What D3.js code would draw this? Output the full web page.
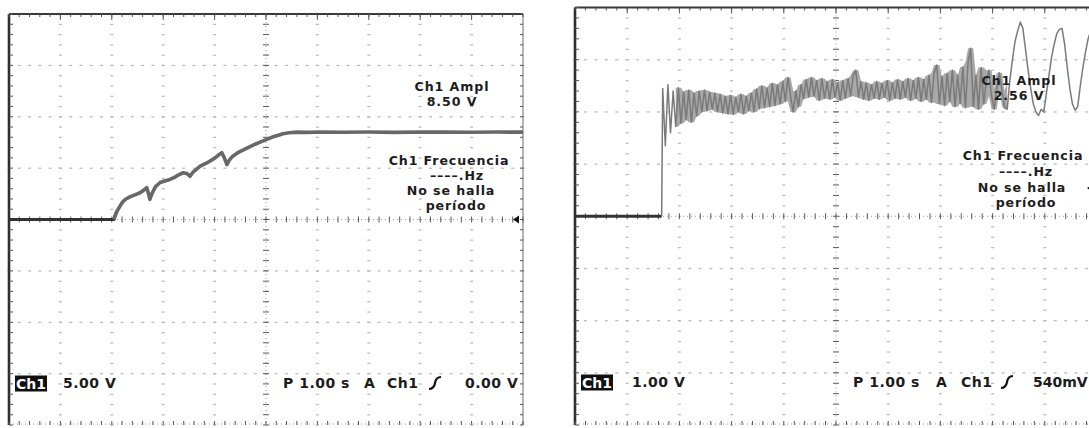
<!DOCTYPE html>
<html>
<head>
<meta charset="utf-8">
<script src="https://cdn.jsdelivr.net/npm/d3@7"></script>
<style>
  html, body { margin: 0; background: #fff; }
  svg { display: block; }
  text { font-family: "DejaVu Sans", sans-serif; }
</style>
</head>
<body>
<svg id="chart" width="1089" height="428"></svg>
<script>
// ---- Channel 1, 5.00 V/div, 1.00 s/div : slow ramp then steady level ----
const rampTime = [0, 2.04, 2.06, 2.10, 2.16, 2.21, 2.26, 2.35, 2.45, 2.55, 2.62, 2.68, 2.71, 2.74,
  2.78, 2.85, 2.94, 3.03, 3.13, 3.22, 3.30, 3.39, 3.47, 3.52, 3.58, 3.72, 3.85, 4.01, 4.08, 4.14,
  4.19, 4.24, 4.29, 4.34, 4.45, 4.57, 4.69, 4.80, 4.92, 5.04, 5.14, 5.24, 5.33, 5.45, 5.60, 5.80,
  6.10, 6.50, 7.00, 7.50, 8.00, 8.50, 9.00, 9.50, 10.0];
const rampVolts = [0, 0, 0.3, 0.8, 1.3, 1.7, 1.95, 2.2, 2.4, 2.6, 2.85, 3.1, 2.6, 1.95,
  2.5, 3.2, 3.6, 3.75, 3.9, 4.1, 4.35, 4.55, 4.45, 4.2, 4.6, 5.2, 5.5, 6.0, 6.3, 6.5,
  6.0, 5.35, 5.8, 6.1, 6.5, 6.8, 7.1, 7.35, 7.6, 7.85, 8.05, 8.2, 8.35, 8.45, 8.5, 8.48,
  8.52, 8.49, 8.51, 8.48, 8.52, 8.5, 8.49, 8.51, 8.5];

// ---- Channel 1, 1.00 V/div, 1.00 s/div : step into a noisy level ----
const stepGroundTime = [0, 1.66];
const stepGroundVolts = [0, 0];
const stepStart = 1.68;    // first sample after the step (s)
const stepInterval = 0.05; // sample spacing (s)
const stepVolts = [
  2.45, 1.35, 2.52, 1.60, 2.40, 1.72, 2.46, 1.78, 2.38, 1.85,
  2.42, 1.80, 2.36, 1.92, 2.40, 2.00, 2.42, 2.02, 2.38, 2.05,
  2.36, 2.00, 2.34, 1.98, 2.30, 1.96, 2.32, 1.95, 2.28, 2.00,
  2.34, 1.96, 2.30, 2.02, 2.36, 2.00, 2.44, 2.06, 2.50, 2.08,
  2.46, 2.10, 2.55, 2.12, 2.52, 2.15, 2.58, 2.20, 2.66, 2.30,
  2.00, 2.40, 2.10, 2.52, 2.25, 2.62, 2.28, 2.66, 2.30, 2.60,
  2.22, 2.64, 2.26, 2.58, 2.24, 2.62, 2.28, 2.56, 2.22, 2.60,
  2.26, 2.64, 2.30, 2.70, 2.80, 2.28, 2.58, 2.24, 2.56, 2.22,
  2.52, 2.26, 2.58, 2.24, 2.55, 2.28, 2.60, 2.22, 2.56, 2.26,
  2.62, 2.24, 2.58, 2.28, 2.64, 2.22, 2.60, 2.26, 2.66, 2.20,
  2.62, 2.24, 2.70, 2.18, 2.75, 2.90, 2.15, 2.68, 2.12, 2.74,
  2.20, 2.80, 2.10, 2.70, 2.16, 2.86, 2.08, 2.95, 3.22, 2.10,
  2.70, 2.05, 2.85, 2.15, 2.60, 2.80, 2.30, 2.05, 2.45, 2.75,
  2.40, 2.10, 2.05, 2.60, 3.00, 3.35, 3.55, 3.72, 3.60, 3.20,
  2.80, 2.45, 2.15, 2.00, 1.93, 2.05, 2.00, 2.35, 2.70, 3.05,
  3.30, 3.50, 3.58, 3.60, 3.30, 2.85, 2.45, 2.15, 2.03, 2.10,
  2.50, 2.85, 3.15, 3.40, 3.55, 3.50, 3.30];
const stepBandEnd = 8.3; // noise band shading stops where the slow swings begin (s)

// ---- On-screen readouts ----
const rampReadout = ["Ch1 Ampl", "8.50 V"];
const stepReadout = ["Ch1 Ampl", "2.56 V"];
const freqReadout = ["Ch1 Frecuencia", "––––.Hz", "No se halla", "período"];
const rampScale = ["Ch1", "5.00 V"];
const stepScale = ["Ch1", "1.00 V"];
const rampTrigger = ["P 1.00 s", "A", "Ch1", "0.00 V"];
const stepTrigger = ["P 1.00 s", "A", "Ch1", "540mV"];
const rampTriggerLevel = 0.00;
const stepTriggerLevel = 0.54;

const svg = d3.select("#chart");

function drawScreen(cfg) {
  const g = svg.append("g");
  // graticule in divisions, data scales in seconds / volts
  const gx = d3.scaleLinear().domain([0, 10]).range([cfg.x0, cfg.x1]);
  const gy = d3.scaleLinear().domain([-4, 4]).range([cfg.y1, cfg.y0]);
  const x = d3.scaleLinear().domain([0, 10 * cfg.secPerDiv]).range([cfg.x0, cfg.x1]);
  const y = d3.scaleLinear().domain([-4 * cfg.voltPerDiv, 4 * cfg.voltPerDiv]).range([cfg.y1, cfg.y0]);

  const minorX = d3.range(0, 50.001, 1).map(i => i / 5);
  const minorY = d3.range(0, 40.001, 1).map(i => i / 5 - 4);

  // dotted division lines
  const grid = g.append("g").attr("fill", "#b8b8b8");
  [1, 2, 3, 4, 6, 7, 8, 9].forEach(d => {
    grid.selectAll(null).data(minorY).join("rect")
      .attr("x", gx(d) - 1.5).attr("y", v => gy(v) - 0.5)
      .attr("width", 3).attr("height", 1.2);
  });
  [-3, -2, -1, 1, 2, 3].forEach(d => {
    grid.selectAll(null).data(minorX).join("rect")
      .attr("x", t => gx(t) - 1.5).attr("y", gy(d) - 0.5)
      .attr("width", 3).attr("height", 1.2);
  });

  // centre axes with fine ticks
  const axes = g.append("g").attr("stroke", "#5a5a5a").attr("stroke-width", 1);
  axes.append("line").attr("x1", gx(5)).attr("x2", gx(5)).attr("y1", cfg.y0).attr("y2", cfg.y1)
    .attr("stroke", "#9a9a9a").attr("stroke-dasharray", "1,3");
  axes.append("line").attr("x1", cfg.x0).attr("x2", cfg.x1).attr("y1", gy(0)).attr("y2", gy(0))
    .attr("stroke", "#9a9a9a").attr("stroke-dasharray", "1,3");
  axes.selectAll(null).data(minorY).join("line")
    .attr("x1", gx(5) - 3).attr("x2", gx(5) + 3).attr("y1", v => gy(v)).attr("y2", v => gy(v));
  axes.selectAll(null).data(minorX).join("line")
    .attr("y1", gy(0) - 3).attr("y2", gy(0) + 3).attr("x1", t => gx(t)).attr("x2", t => gx(t));

  // frame: heavy left/top, light right, faint bottom
  const frame = g.append("g");
  frame.append("line").attr("x1", cfg.x0).attr("x2", cfg.x0).attr("y1", cfg.y0).attr("y2", cfg.y1)
    .attr("stroke", "#2e2e2e").attr("stroke-width", 2.6);
  frame.append("line").attr("x1", cfg.x0).attr("x2", cfg.x1).attr("y1", cfg.y0).attr("y2", cfg.y0)
    .attr("stroke", "#3a3a3a").attr("stroke-width", 2.2);
  frame.append("line").attr("x1", cfg.x1).attr("x2", cfg.x1).attr("y1", cfg.y0).attr("y2", cfg.y1)
    .attr("stroke", "#6a6a6a").attr("stroke-width", 1);
  frame.append("line").attr("x1", cfg.x0).attr("x2", cfg.x1).attr("y1", cfg.y1 - 1).attr("y2", cfg.y1 - 1)
    .attr("stroke", "#9a9a9a").attr("stroke-dasharray", "1,3");
  const ticks = frame.append("g").attr("stroke", "#555").attr("stroke-width", 1);
  ticks.selectAll(null).data(minorY).join("line")
    .attr("x1", cfg.x0).attr("x2", cfg.x0 + 4).attr("y1", v => gy(v)).attr("y2", v => gy(v));
  ticks.selectAll(null).data(minorY).join("line")
    .attr("x1", cfg.x1 - 3).attr("x2", cfg.x1).attr("y1", v => gy(v)).attr("y2", v => gy(v));
  ticks.selectAll(null).data(minorX).join("line")
    .attr("x1", t => gx(t)).attr("x2", t => gx(t)).attr("y1", cfg.y0).attr("y2", cfg.y0 + 3);
  ticks.selectAll(null).data(minorX).join("line")
    .attr("x1", t => gx(t)).attr("x2", t => gx(t)).attr("y1", cfg.y1 - 4).attr("y2", cfg.y1);
  // major ticks on the frame at each division
  ticks.selectAll(null).data(d3.range(1, 10)).join("line")
    .attr("x1", d => gx(d)).attr("x2", d => gx(d)).attr("y1", cfg.y0).attr("y2", cfg.y0 + 6);

  // waveform
  cfg.traces(g, x, y);

  // trigger level marker on the right edge
  const ty = y(cfg.triggerLevel);
  g.append("path")
    .attr("d", `M${cfg.x1 - 10},${ty} L${cfg.x1 - 4},${ty - 4} L${cfg.x1 - 4},${ty + 4} Z`)
    .attr("fill", "#111");

  // readouts
  const txt = g.append("g").attr("fill", "#1c1c1c").attr("font-size", 12.6)
    .attr("font-weight", "bold").attr("letter-spacing", 0.9).attr("text-anchor", "middle");
  txt.selectAll(null).data(cfg.ampl).join("text")
    .attr("x", cfg.amplX).attr("y", (d, i) => cfg.amplY + i * 15).text(d => d);
  txt.selectAll(null).data(freqReadout).join("text")
    .attr("x", (d, i) => cfg.freqX + cfg.freqDx[i]).attr("y", (d, i) => cfg.freqY[i]).text(d => d);

  // bottom status line
  const by = cfg.statusY;
  g.append("rect").attr("x", cfg.x0 + 6).attr("y", by - 12.5).attr("width", 32).attr("height", 16)
    .attr("fill", "#111");
  g.append("text").attr("x", cfg.x0 + 22).attr("y", by + 0.5).attr("text-anchor", "middle")
    .attr("font-size", 14).attr("font-weight", "bold").attr("fill", "#fff").text(cfg.scale[0]);
  const status = g.append("g").attr("fill", "#1c1c1c").attr("font-size", 14)
    .attr("font-weight", "bold").attr("letter-spacing", 0.5);
  status.append("text").attr("x", cfg.scaleX).attr("y", by).text(cfg.scale[1]);
  status.selectAll(null).data(cfg.trigger).join("text")
    .attr("x", (d, i) => cfg.trigX[i]).attr("y", by)
    .attr("letter-spacing", (d, i) => i === 3 ? cfg.lastSpacing : null).text(d => d);
  // rising-edge slope symbol
  const sx = cfg.slopeX;
  g.append("path")
    .attr("d", `M${sx},${by + 1} Q${sx + 5},${by + 1} ${sx + 6},${by - 5} Q${sx + 7},${by - 11} ${sx + 12},${by - 11}`)
    .attr("fill", "none").attr("stroke", "#111").attr("stroke-width", 2.2);
}

// left screen: ramp
drawScreen({
  x0: 9, x1: 523, y0: 14, y1: 425, secPerDiv: 1, voltPerDiv: 5,
  triggerLevel: rampTriggerLevel,
  ampl: rampReadout, amplX: 452, amplY: 91,
  freqX: 449, freqDx: [0, 8, 2, 7], freqY: [165, 180, 195, 210],
  statusY: 388, scale: rampScale, scaleX: 63,
  trigger: rampTrigger, trigX: [283, 364, 387, 465], lastSpacing: 0.5, slopeX: 429,
  traces: (g, x, y) => {
    const pts = rampTime.map((t, i) => [t, rampVolts[i]]);
    const line = d3.line().x(d => x(d[0])).y(d => y(d[1]));
    g.append("path").attr("d", line(pts.filter(d => d[0] <= 2.1)))
      .attr("fill", "none").attr("stroke", "#333").attr("stroke-width", 3.2);
    g.append("path").attr("d", line(pts.filter(d => d[0] >= 2.04)))
      .attr("fill", "none").attr("stroke", "#686868").attr("stroke-width", 3.6)
      .attr("stroke-linejoin", "round");
  }
});

// right screen: step with noise
drawScreen({
  x0: 575, x1: 1097, y0: 7.5, y1: 425, secPerDiv: 1, voltPerDiv: 1,
  triggerLevel: stepTriggerLevel,
  ampl: stepReadout, amplX: 1019, amplY: 85,
  freqX: 1022, freqDx: [1, 4, 0, 4], freqY: [160, 176, 192, 207],
  statusY: 387, scale: stepScale, scaleX: 632,
  trigger: stepTrigger, trigX: [853, 936, 961, 1033], lastSpacing: 0, slopeX: 1001,
  traces: (g, x, y) => {
    const line = d3.line().x(d => x(d[0])).y(d => y(d[1]));
    const ground = stepGroundTime.map((t, i) => [t, stepGroundVolts[i]]);
    const samples = stepVolts.map((v, i) => [stepStart + i * stepInterval, v]);
    // peak-detect style band: min / max of each sample and its neighbours
    const band = samples.map((d, i) => {
      const w = stepVolts.slice(Math.max(0, i - 1), i + 2);
      return [d[0], d3.min(w), d3.max(w)];
    }).filter(d => d[0] > 1.9 && d[0] <= stepBandEnd);
    g.append("path")
      .attr("d", d3.area().x(d => x(d[0])).y0(d => y(d[1])).y1(d => y(d[2])).curve(d3.curveLinear)(band))
      .attr("fill", "#a9a9a9");
    g.append("path").attr("d", line(ground))
      .attr("fill", "none").attr("stroke", "#333").attr("stroke-width", 3.2);
    g.append("path").attr("d", line([[stepGroundTime[1], 0]].concat(samples)))
      .attr("fill", "none").attr("stroke", "#7a7a7a").attr("stroke-width", 1.5)
      .attr("stroke-linejoin", "round");
  }
});
</script>
</body>
</html>
